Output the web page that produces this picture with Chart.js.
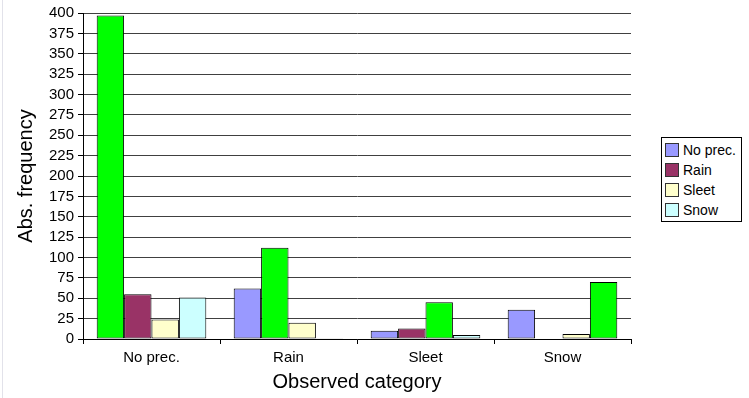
<!DOCTYPE html>
<html>
<head>
<meta charset="utf-8">
<script src="https://cdn.jsdelivr.net/npm/chart.js@4"></script>
<style>
  html, body { margin: 0; padding: 0; background: #fff; }
  #wrap { position: relative; width: 749px; height: 398px; }
  #edge { position: absolute; left: 2px; top: 0; width: 1px; height: 398px; background: #e2e2ea; }
  #legend {
    position: absolute; left: 661px; top: 137px; width: 79px; height: 83px;
    border: 1px solid #000; background: #fff;
    font-family: "Liberation Sans", Arial, sans-serif; font-size: 14px; color: #000;
  }
  .item { position: absolute; left: 3px; height: 14px; display: flex; align-items: center; }
  .sw { width: 12px; height: 12px; border: 1px solid #333; margin-right: 4px; }
</style>
</head>
<body>
<div id="wrap">
  <canvas id="c" width="749" height="398"></canvas>
  <div id="edge"></div>
  <div id="legend"></div>
</div>
<script>
// Observed categories along the x axis
const categories = ['No prec.', 'Rain', 'Sleet', 'Snow'];
// Forecast categories (one series each)
const seriesNames = ['No prec.', 'Rain', 'Sleet', 'Snow'];
// Absolute frequencies per observed category
const noPrecValues = [397, 62, 10, 36];
const rainValues = [55, 112, 13, 0];
const sleetValues = [24, 20, 45, 6];
const snowValues = [51, 1, 5, 70];
const seriesValues = [noPrecValues, rainValues, sleetValues, snowValues];

const seriesColors = ['#9999FF', '#993366', '#FFFFCC', '#CCFFFF'];
const hitColor = '#00FF00';

const datasets = seriesNames.map((name, s) => ({
  label: name,
  data: seriesValues[s],
  // correct forecasts (forecast == observed) are drawn in green
  backgroundColor: categories.map((_, i) => i === s ? hitColor : seriesColors[s]),
  borderColor: '#000',
  borderWidth: 1,
  borderSkipped: false,
  categoryPercentage: 0.8,
  barPercentage: 1.0
}));

const font = 'Liberation Sans, Arial, sans-serif';

new Chart(document.getElementById('c'), {
  type: 'bar',
  data: { labels: categories, datasets },
  options: {
    responsive: false,
    animation: false,
    layout: { padding: { top: 13, right: 118, bottom: 0, left: 0 } },
    plugins: { legend: { display: false }, tooltip: { enabled: false } },
    scales: {
      x: {
        offset: true,
        grid: {
          display: true,
          offset: true,
          drawOnChartArea: false,
          drawTicks: true,
          tickLength: 5,
          color: ctx => ctx.index === categories.length ? 'rgba(0,0,0,0)' : '#000'
        },
        border: { display: true, color: '#000', width: 1 },
        ticks: { color: '#000', font: { family: font, size: 15 }, padding: 5, maxRotation: 0 },
        title: { display: true, text: 'Observed category', color: '#000',
                 font: { family: font, size: 20 }, padding: { top: 0, bottom: 4 } },
        afterFit: s => { s.height = 59; }
      },
      y: {
        min: 0, max: 400,
        grid: { color: '#404040', lineWidth: 1, tickLength: 5, tickColor: '#000' },
        border: { display: true, color: '#000', width: 1 },
        ticks: { stepSize: 25, autoSkip: false, color: '#000', font: { family: font, size: 15 }, padding: 4 },
        title: { display: true, text: 'Abs. frequency', color: '#000',
                 font: { family: font, size: 20 }, padding: { top: 14, bottom: 0 } },
        afterFit: s => { s.width = 83; }
      }
    }
  }
});

// Legend box
const legend = document.getElementById('legend');
seriesNames.forEach((name, s) => {
  const item = document.createElement('div');
  item.className = 'item';
  item.style.top = (5 + s * 20) + 'px';
  const sw = document.createElement('span');
  sw.className = 'sw';
  sw.style.background = seriesColors[s];
  const txt = document.createElement('span');
  txt.textContent = name;
  item.appendChild(sw);
  item.appendChild(txt);
  legend.appendChild(item);
});
</script>
</body>
</html>
